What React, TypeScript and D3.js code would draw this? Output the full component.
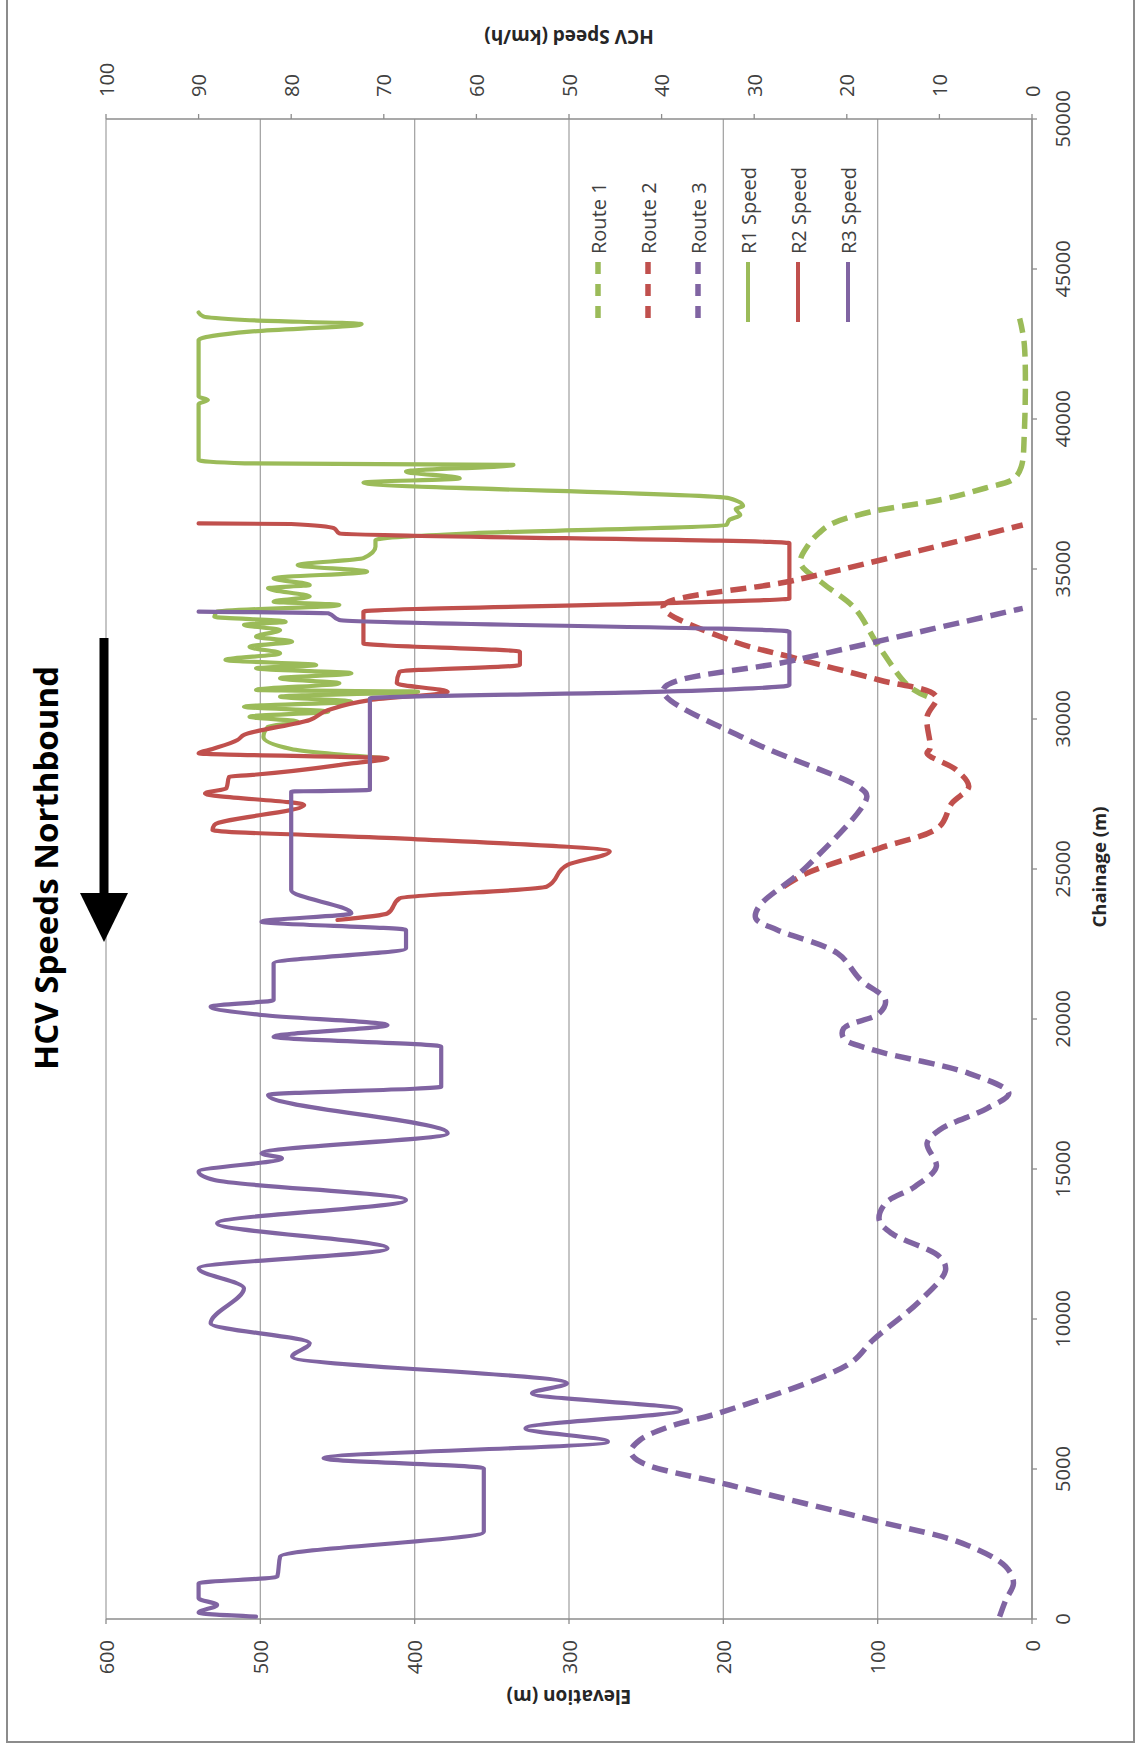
import React from "react";
import * as d3 from "d3";

// [chainage (m), elevation (m)]
const route1: [number, number][] = [
  [30750, 68], [31100, 80], [32400, 99], [33700, 115], [34500, 135], [35200, 150],
  [35800, 145], [36200, 138], [36500, 130], [36900, 105], [37300, 60], [37700, 30],
  [38000, 12], [38400, 7], [39500, 5], [42500, 5], [43350, 8],
];
const route2: [number, number][] = [
  [24411, 161], [24856, 146], [25689, 99], [26411, 60], [27189, 52], [27744, 41],
  [28300, 49], [28856, 68], [29022, 66], [30078, 68], [30744, 62], [31300, 99],
  [32022, 153], [32633, 196], [33744, 239], [34633, 153], [36467, 6],
];
const route3: [number, number][] = [
  [78, 21], [633, 17], [1189, 12], [1744, 17], [2522, 45], [3244, 99], [4467, 196],
  [5244, 254], [5578, 260], [5967, 254], [6411, 235], [6911, 200], [8522, 118],
  [9300, 103], [10633, 72], [11633, 56], [12078, 60], [12856, 91], [13300, 99],
  [13856, 95], [14411, 76], [15078, 62], [15856, 68], [16300, 60], [17022, 29],
  [17522, 15], [18189, 41], [18967, 103], [19356, 122], [19689, 122], [20189, 99],
  [20633, 95], [21300, 111], [22189, 126], [22967, 165], [23356, 179], [23744, 177],
  [25078, 146], [27411, 107], [27689, 111], [29300, 184], [30967, 239], [31967, 153],
  [33689, 6],
];
// [chainage (m), HCV speed (km/h)]
const r1Speed: [number, number][] = [
  [28700, 70], [29000, 80], [29400, 83], [29745, 82.5], [29911, 79.3], [30078, 84.5],
  [30245, 76], [30411, 85.1], [30578, 73.5], [30745, 81.2], [30911, 66.3], [30967, 83.8],
  [31189, 74.8], [31356, 81.2], [31522, 73.5], [31689, 83.8], [31800, 77.3], [31967, 87.1],
  [32189, 81.2], [32411, 84.5], [32578, 79.9], [32745, 83.8], [32967, 81.2], [33134, 85.1],
  [33245, 80.6], [33410, 88.3], [33580, 88], [33800, 74.8], [33910, 81.9], [34080, 78],
  [34355, 82.5], [34470, 78], [34690, 81.9], [34910, 71.8], [35130, 79.3], [35360, 72.2],
  [35740, 70.9], [35970, 70.9], [36190, 60.5], [36470, 33], [36630, 32.7], [36800, 31.5],
  [37000, 32], [37100, 31.2], [37360, 32.7], [37880, 72.2], [38020, 61.8], [38250, 67.6],
  [38470, 56], [38520, 85], [38630, 90], [40500, 90], [40630, 89], [40750, 90],
  [42630, 90], [42910, 84.5], [43160, 72.4], [43300, 85], [43420, 89.5], [43550, 90],
];
const r2Speed: [number, number][] = [
  [23300, 75], [23520, 69.6], [24020, 68.3], [24410, 52.4], [25130, 50.2], [25580, 45.6],
  [26020, 68.3], [26300, 88.5], [26470, 88.3], [27130, 78.6], [27520, 89.3], [27690, 87],
  [28080, 86.7], [28130, 84.5], [28520, 73.5], [28690, 69.6], [28856, 90], [29000, 88.5],
  [29300, 85.8], [29470, 85.1], [29970, 78], [30300, 76], [30630, 71.5], [30910, 63.1],
  [31190, 68.6], [31580, 68.3], [31800, 55.3], [32240, 55.3], [32520, 72.2], [33580, 72.2],
  [33860, 39.8], [34020, 26.2], [35860, 26.2], [36190, 74.8], [36360, 75.4], [36500, 80],
  [36520, 90],
];
const r3Speed: [number, number][] = [
  [78, 83.8], [211, 90], [467, 88], [689, 90], [1189, 90], [1411, 81.5], [2078, 81.2],
  [2911, 59.2], [5022, 59.2], [5356, 76.5], [5911, 45.8], [6356, 54.7], [6967, 37.9],
  [7522, 54], [7856, 50.2], [8744, 79.9], [9189, 78], [9856, 88.7], [11022, 85.1],
  [11689, 90], [12356, 69.6], [13189, 88], [13967, 67.6], [14633, 88.3], [14911, 90],
  [15356, 81], [15522, 83.2], [16189, 63.1], [17467, 82.5], [17744, 63.8], [19078, 63.8],
  [19411, 81.9], [19800, 69.6], [20133, 83.2], [20411, 88.7], [20633, 81.9], [21856, 81.9],
  [22356, 67.6], [22967, 67.6], [23244, 83.2], [23522, 73.5], [24300, 80], [27578, 80],
  [27633, 71.5], [30689, 71.5], [30911, 39.8], [31133, 26.2], [32911, 26.2], [33300, 74.8],
  [33522, 76], [33578, 90],
];

const chainageTicks = [0, 5000, 10000, 15000, 20000, 25000, 30000, 35000, 40000, 45000, 50000];
const elevationTicks = [0, 100, 200, 300, 400, 500, 600];
const speedTicks = [0, 10, 20, 30, 40, 50, 60, 70, 80, 90, 100];
const legendLabels = ["Route 1", "Route 2", "Route 3", "R1 Speed", "R2 Speed", "R3 Speed"];

const GREEN = "#9BBB59";
const RED = "#C0504D";
const PURPLE = "#8064A2";

export default function App() {
  const W = 1144, H = 1749;
  const left = 106, right = 1032, top = 119, bottom = 1619;
  const yC = d3.scaleLinear().domain([0, 50000]).range([bottom, top]);
  const xE = d3.scaleLinear().domain([0, 600]).range([right, left]);
  const xS = d3.scaleLinear().domain([0, 100]).range([right, left]);

  const elevLine = d3.line<[number, number]>()
    .x((d) => xE(d[1])).y((d) => yC(d[0]))
    .curve(d3.curveCatmullRom.alpha(0.5));
  const speedLine = d3.line<[number, number]>()
    .x((d) => xS(d[1])).y((d) => yC(d[0]))
    .curve(d3.curveMonotoneY);

  const font = "'Open Sans', 'Liberation Sans', sans-serif";
  const dashed = [
    { data: route1, color: GREEN },
    { data: route2, color: RED },
    { data: route3, color: PURPLE },
  ];
  const solid = [
    { data: r1Speed, color: GREEN },
    { data: r2Speed, color: RED },
    { data: r3Speed, color: PURPLE },
  ];
  const legendColors = [GREEN, RED, PURPLE, GREEN, RED, PURPLE];

  return (
    <svg width={W} height={H} style={{ position: "absolute", left: 0, top: 0, background: "#fff" }}
      fontFamily={font}>
      <rect x={0} y={0} width={W} height={H} fill="#fff" />
      {/* outer border */}
      <path d={`M7,-2 V1742 H1134 V-2`} fill="none" stroke="#8c8c8c" strokeWidth={2} />

      {/* gridlines */}
      {elevationTicks.map((t) => (
        <line key={"g" + t} x1={xE(t)} x2={xE(t)} y1={top} y2={bottom} stroke="#a6a6a6" strokeWidth={1.3} />
      ))}
      {/* axes */}
      <line x1={left} x2={right} y1={bottom} y2={bottom} stroke="#8c8c8c" strokeWidth={1.5} />
      <line x1={left} x2={right} y1={top} y2={top} stroke="#8c8c8c" strokeWidth={1.5} />
      <line x1={right} x2={right} y1={top} y2={bottom} stroke="#8c8c8c" strokeWidth={1.5} />
      {elevationTicks.map((t) => (
        <line key={"et" + t} x1={xE(t)} x2={xE(t)} y1={bottom} y2={bottom + 5} stroke="#8c8c8c" strokeWidth={1.3} />
      ))}
      {speedTicks.map((t) => (
        <line key={"st" + t} x1={xS(t)} x2={xS(t)} y1={top} y2={top - 5} stroke="#8c8c8c" strokeWidth={1.3} />
      ))}
      {chainageTicks.map((t) => (
        <line key={"ct" + t} x1={right} x2={right + 5} y1={yC(t)} y2={yC(t)} stroke="#8c8c8c" strokeWidth={1.3} />
      ))}

      {/* tick labels */}
      {elevationTicks.map((t) => (
        <text key={"el" + t} transform={`translate(${xE(t)},${bottom + 21}) rotate(-90)`}
          textAnchor="end" dominantBaseline="central" fontSize={20} fill="#404040">{t}</text>
      ))}
      {speedTicks.map((t) => (
        <text key={"sl" + t} transform={`translate(${xS(t)},${top - 22}) rotate(-90)`}
          textAnchor="start" dominantBaseline="central" fontSize={20} fill="#404040">{t}</text>
      ))}
      {chainageTicks.map((t) => (
        <text key={"cl" + t} transform={`translate(1062,${yC(t)}) rotate(-90)`}
          textAnchor="middle" dominantBaseline="central" fontSize={20} fill="#404040">{t}</text>
      ))}

      {/* axis titles */}
      <text transform={`translate(569,1697) rotate(180)`} textAnchor="middle" dominantBaseline="central"
        fontSize={19} fontWeight="bold" fill="#262626">Elevation (m)</text>
      <text transform={`translate(569,37) rotate(180)`} textAnchor="middle" dominantBaseline="central"
        fontSize={19} fontWeight="bold" fill="#262626">HCV Speed (km/h)</text>
      <text transform={`translate(1098,867) rotate(-90)`} textAnchor="middle" dominantBaseline="central"
        fontSize={18.5} fontWeight="bold" fill="#262626">Chainage (m)</text>

      {/* series */}
      {dashed.map((s, i) => (
        <path key={"d" + i} d={elevLine(s.data) || ""} fill="none" stroke={s.color}
          strokeWidth={5.5} strokeDasharray="16 8" />
      ))}
      {solid.map((s, i) => (
        <path key={"s" + i} d={speedLine(s.data) || ""} fill="none" stroke={s.color}
          strokeWidth={4.2} strokeLinejoin="round" strokeLinecap="round" />
      ))}

      {/* legend */}
      {legendLabels.map((lab, i) => {
        const x = 598 + i * 50;
        return (
          <g key={"lg" + i}>
            <line x1={x} x2={x} y1={262} y2={322} stroke={legendColors[i]}
              strokeWidth={i < 3 ? 5.5 : 4} strokeDasharray={i < 3 ? "12 10" : undefined} />
            <text transform={`translate(${x},254) rotate(-90)`} textAnchor="start"
              dominantBaseline="central" fontSize={20} fill="#404040">{lab}</text>
          </g>
        );
      })}

      {/* title and arrow */}
      <text transform={`translate(45,868) rotate(-90)`} textAnchor="middle" dominantBaseline="central"
        fontSize={33} fontWeight="bold" fill="#000">HCV Speeds Northbound</text>
      <rect x={99.5} y={638} width={9} height={257} fill="#000" />
      <polygon points="80,893 128,893 104,942" fill="#000" />
    </svg>
  );
}
